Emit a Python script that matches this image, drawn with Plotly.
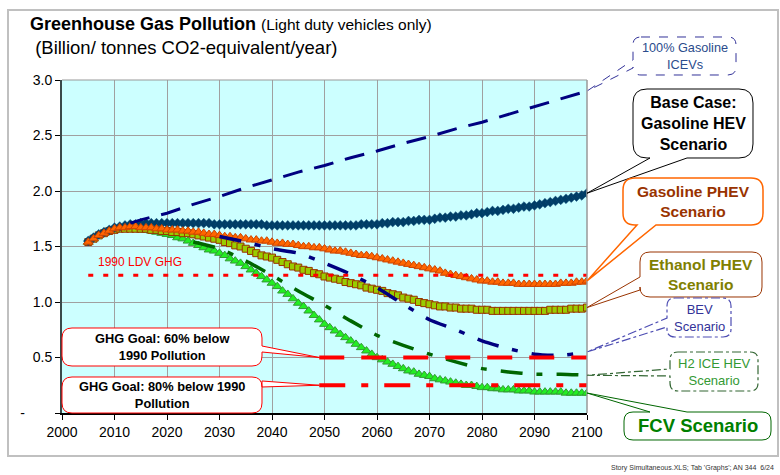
import plotly.graph_objects as go

# ---------------- data ----------------
YEARS = list(range(2005, 2101))

BASE_HEV = [1.55, 1.58, 1.61, 1.63, 1.65, 1.67, 1.68, 1.69, 1.70, 1.70,
            1.71, 1.71, 1.71, 1.71, 1.71, 1.71, 1.71, 1.71, 1.71, 1.71,
            1.71, 1.71, 1.71, 1.71, 1.70, 1.70, 1.70, 1.70, 1.70, 1.70,
            1.70, 1.70, 1.70, 1.70, 1.69, 1.69, 1.69, 1.69, 1.69, 1.69,
            1.69, 1.69, 1.69, 1.69, 1.69, 1.69, 1.69, 1.69, 1.69, 1.69,
            1.69, 1.69, 1.70, 1.70, 1.70, 1.70, 1.71, 1.71, 1.72, 1.72,
            1.72, 1.73, 1.73, 1.74, 1.74, 1.74, 1.75, 1.76, 1.76, 1.77,
            1.77, 1.78, 1.78, 1.79, 1.80, 1.80, 1.81, 1.82, 1.82, 1.83,
            1.84, 1.84, 1.85, 1.86, 1.86, 1.87, 1.88, 1.89, 1.90, 1.91,
            1.92, 1.93, 1.94, 1.95, 1.96, 1.98]

GAS_PHEV = [1.54, 1.57, 1.60, 1.62, 1.64, 1.66, 1.67, 1.67, 1.68, 1.68,
            1.67, 1.67, 1.67, 1.66, 1.66, 1.65, 1.65, 1.65, 1.64, 1.64,
            1.63, 1.63, 1.62, 1.61, 1.61, 1.60, 1.59, 1.59, 1.58, 1.58,
            1.57, 1.56, 1.56, 1.55, 1.55, 1.54, 1.53, 1.53, 1.52, 1.52,
            1.51, 1.50, 1.50, 1.49, 1.49, 1.48, 1.47, 1.46, 1.46, 1.45,
            1.44, 1.43, 1.42, 1.42, 1.41, 1.40, 1.39, 1.38, 1.37, 1.36,
            1.35, 1.34, 1.33, 1.32, 1.31, 1.30, 1.29, 1.28, 1.26, 1.25,
            1.24, 1.23, 1.22, 1.21, 1.20, 1.19, 1.19, 1.18, 1.18, 1.17,
            1.17, 1.17, 1.16, 1.16, 1.16, 1.16, 1.16, 1.16, 1.16, 1.16,
            1.17, 1.17, 1.17, 1.18, 1.18, 1.19]

ETHANOL_PHEV = [1.54, 1.57, 1.60, 1.62, 1.64, 1.65, 1.66, 1.66, 1.66, 1.66,
                1.66, 1.66, 1.65, 1.65, 1.64, 1.64, 1.63, 1.63, 1.62, 1.62,
                1.61, 1.60, 1.59, 1.58, 1.57, 1.56, 1.54, 1.53, 1.51, 1.50,
                1.48, 1.46, 1.44, 1.42, 1.41, 1.40, 1.38, 1.36, 1.34, 1.32,
                1.31, 1.29, 1.28, 1.26, 1.25, 1.23, 1.22, 1.21, 1.20, 1.18,
                1.17, 1.16, 1.15, 1.13, 1.12, 1.11, 1.10, 1.08, 1.07, 1.06,
                1.04, 1.03, 1.02, 1.00, 0.99, 0.98, 0.97, 0.96, 0.96, 0.95,
                0.95, 0.94, 0.94, 0.94, 0.93, 0.93, 0.93, 0.92, 0.92, 0.92,
                0.92, 0.92, 0.92, 0.92, 0.92, 0.92, 0.92, 0.92, 0.93, 0.93,
                0.93, 0.93, 0.94, 0.94, 0.94, 0.95]

FCV = [1.54, 1.57, 1.60, 1.62, 1.64, 1.65, 1.66, 1.66, 1.66, 1.66,
       1.65, 1.65, 1.64, 1.63, 1.62, 1.61, 1.60, 1.58, 1.57, 1.55,
       1.53, 1.51, 1.49, 1.47, 1.46, 1.44, 1.42, 1.39, 1.37, 1.35,
       1.32, 1.29, 1.26, 1.23, 1.20, 1.17, 1.14, 1.10, 1.07, 1.03,
       0.99, 0.96, 0.92, 0.88, 0.84, 0.80, 0.77, 0.74, 0.71, 0.68,
       0.65, 0.62, 0.59, 0.56, 0.53, 0.50, 0.48, 0.46, 0.44, 0.42,
       0.40, 0.38, 0.37, 0.35, 0.34, 0.33, 0.31, 0.30, 0.29, 0.28,
       0.27, 0.26, 0.25, 0.25, 0.24, 0.23, 0.23, 0.22, 0.22, 0.21,
       0.21, 0.21, 0.20, 0.20, 0.20, 0.19, 0.19, 0.19, 0.19, 0.19,
       0.19, 0.18, 0.18, 0.18, 0.18, 0.18]

ICEV_YEARS = [2013, 2015, 2020, 2025, 2030, 2035, 2040, 2045, 2050, 2055,
              2060, 2065, 2070, 2075, 2080, 2085, 2090, 2095, 2100]
ICEV = [1.71, 1.74, 1.80, 1.88, 1.95, 2.03, 2.10, 2.17, 2.23, 2.30,
        2.36, 2.43, 2.49, 2.56, 2.62, 2.69, 2.76, 2.83, 2.90]

BEV_YEARS = [2030, 2035, 2040, 2045, 2050, 2055, 2060, 2065, 2070, 2075,
             2080, 2085, 2090, 2095, 2100]
BEV = [1.59, 1.54, 1.48, 1.44, 1.35, 1.25, 1.13, 0.98, 0.84, 0.75,
       0.65, 0.58, 0.53, 0.52, 0.55]

H2_YEARS = [2025, 2030, 2035, 2040, 2045, 2050, 2055, 2060, 2065, 2070,
            2075, 2080, 2085, 2090, 2095, 2100]
H2_ICE_HEV = [1.54, 1.48, 1.37, 1.24, 1.10, 0.97, 0.83, 0.70, 0.61, 0.53,
              0.46, 0.40, 0.37, 0.35, 0.35, 0.34]

LDV_1990_YEARS = [2005, 2100]
LDV_1990 = 1.24
GOAL_YEARS = [2049, 2100]
GOAL_60 = 0.50
GOAL_80 = 0.25

X_TICKS = list(range(2000, 2101, 10))
Y_TICKS = [0, 0.5, 1.0, 1.5, 2.0, 2.5, 3.0]
Y_TICK_TEXT = ["-" + "\u00a0" * 7, "0.5", "1.0", "1.5", "2.0", "2.5", "3.0"]

# ---------------- geometry helpers (pixel -> paper) ----------------
W, H = 780, 475
L, R, T, B = 62, 587, 80, 413
XR = (2000, 2100)
YR = (0, 3)


def px(x):
    return (x - L) / (R - L)


def py(y):
    return (B - y) / (B - T)


def xpix(v):
    return L + (v - XR[0]) / (XR[1] - XR[0]) * (R - L)


def ypix(v):
    return B - (v - YR[0]) / (YR[1] - YR[0]) * (B - T)


def P(x, y):
    return f"{px(x):.5f},{py(y):.5f}"


def callout_path(x0, y0, x1, y1, r, side, b1, b2, tip):
    d = f"M {P(x0 + r, y0)} "
    if side == "top":
        d += f"L {P(b1, y0)} L {P(*tip)} L {P(b2, y0)} "
    d += f"L {P(x1 - r, y0)} Q {P(x1, y0)} {P(x1, y0 + r)} "
    if side == "right":
        d += f"L {P(x1, b1)} L {P(*tip)} L {P(x1, b2)} "
    d += f"L {P(x1, y1 - r)} Q {P(x1, y1)} {P(x1 - r, y1)} "
    if side == "bottom":
        d += f"L {P(b2, y1)} L {P(*tip)} L {P(b1, y1)} "
    d += f"L {P(x0 + r, y1)} Q {P(x0, y1)} {P(x0, y1 - r)} "
    if side == "left":
        d += f"L {P(x0, b2)} L {P(*tip)} L {P(x0, b1)} "
    d += f"L {P(x0, y0 + r)} Q {P(x0, y0)} {P(x0 + r, y0)} Z"
    return d


FONT = "Arial, Liberation Sans, sans-serif"

fig = go.Figure()

# ---------------- marker series ----------------
fig.add_trace(go.Scatter(x=YEARS, y=FCV, mode="markers", name="FCV Scenario",
                         marker=dict(symbol="triangle-up", size=8.5, color="#22EE22",
                                     line=dict(color="#339933", width=1))))
fig.add_trace(go.Scatter(x=YEARS, y=ETHANOL_PHEV, mode="markers", name="Ethanol PHEV",
                         marker=dict(symbol="square", size=7, color="#99CC00",
                                     line=dict(color="#993300", width=1))))
fig.add_trace(go.Scatter(x=YEARS, y=BASE_HEV, mode="markers", name="Base Case",
                         marker=dict(symbol="diamond", size=7.5, color="#003D66",
                                     line=dict(color="#0B4F7A", width=0.5))))
fig.add_trace(go.Scatter(x=YEARS, y=GAS_PHEV, mode="markers", name="Gasoline PHEV",
                         marker=dict(symbol="triangle-up", size=8.5, color="#FF6600",
                                     line=dict(color="#CC4400", width=1))))

# ---------------- dashed lines ----------------
fig.add_trace(go.Scatter(x=ICEV_YEARS, y=ICEV, mode="lines", name="100% Gasoline ICEVs",
                         line=dict(color="#000080", width=3, dash="20px,12px")))
fig.add_trace(go.Scatter(x=BEV_YEARS, y=BEV, mode="lines", name="BEV",
                         line=dict(color="#000080", width=3.5, dash="22px,14px,6px,14px",
                                   shape="spline", smoothing=0.6)))
fig.add_trace(go.Scatter(x=H2_YEARS, y=H2_ICE_HEV, mode="lines", name="H2 ICE HEV",
                         line=dict(color="#006600", width=3.5, dash="22px,14px,6px,14px",
                                   shape="spline", smoothing=0.6)))

# ---------------- red reference lines ----------------
fig.add_trace(go.Scatter(x=LDV_1990_YEARS, y=[LDV_1990] * 2, mode="lines", name="1990 LDV GHG",
                         line=dict(color="#FF0000", width=3, dash="5px,10px")))
fig.add_trace(go.Scatter(x=GOAL_YEARS, y=[GOAL_60] * 2, mode="lines", name="60% goal",
                         line=dict(color="#FF0000", width=4, dash="25px,17px")))
fig.add_trace(go.Scatter(x=GOAL_YEARS, y=[GOAL_80] * 2, mode="lines", name="80% goal",
                         line=dict(color="#FF0000", width=4, dash="26px,16px,7px,16px")))

shapes = []
annotations = []

# outer frame
shapes.append(dict(type="rect", xref="paper", yref="paper",
                   x0=px(8), x1=px(778), y0=py(456), y1=py(10),
                   line=dict(color="#C0C0C0", width=2), fillcolor="rgba(0,0,0,0)", layer="below"))
# right and top plot edges
shapes.append(dict(type="line", xref="paper", yref="paper", x0=1, x1=1, y0=0, y1=1,
                   line=dict(color="#999999", width=1.5)))
shapes.append(dict(type="line", xref="paper", yref="paper", x0=0, x1=1, y0=1, y1=1,
                   line=dict(color="#999999", width=1)))

# callouts: (box, radius, side, b1, b2, tip, border, width, dash, text, size, color, bold)
callouts = [
    ((633, 37, 736, 75), 8, "left", 60, 68, (xpix(ICEV_YEARS[-1]), ypix(ICEV[-1])),
     "#333399", 1, "dash", "100% Gasoline<br>ICEVs", 12.7, "#2B4C8C", False),
    ((633, 89, 753, 158), 14, "bottom", 650, 687, (xpix(YEARS[-1]), ypix(BASE_HEV[-1])),
     "#000000", 1, "solid", "Base Case:<br>Gasoline HEV<br>Scenario", 16, "#000000", True),
    ((623, 178, 763, 225), 12, "bottom", 637, 656, (xpix(YEARS[-1]), ypix(GAS_PHEV[-1])),
     "#FF6600", 1.5, "solid", "Gasoline PHEV<br>Scenario", 15.5, "#993300", True),
    ((640, 252, 762, 297), 10, "left", 277, 290, (xpix(YEARS[-1]), ypix(ETHANOL_PHEV[-1])),
     "#993300", 1, "solid", "Ethanol PHEV<br>Scenario", 15.5, "#808000", True),
    ((667, 298, 731, 337), 8, "left", 318, 327, (xpix(BEV_YEARS[-1]), ypix(BEV[-1])),
     "#4D4DB3", 1.2, "dashdot", "BEV<br>Scenario", 13, "#333399", False),
    ((670, 352, 758, 391), 8, "left", 369, 376, (xpix(H2_YEARS[-1]), ypix(H2_ICE_HEV[-1])),
     "#336633", 1.2, "dashdot", "H2 ICE HEV<br>Scenario", 13, "#339933", False),
    ((624, 412, 771, 440), 9, "top", 650, 687, (xpix(YEARS[-1]), ypix(FCV[-1])),
     "#006600", 1, "solid", "FCV Scenario", 18.5, "#008000", True),
    ((62, 328, 262, 366), 10, "right", 346, 352, (xpix(GOAL_YEARS[0]), ypix(GOAL_60)),
     "#FF0000", 1, "solid", "GHG Goal: 60% below<br>1990 Pollution", 12.8, "#000000", True),
    ((62, 377, 262, 413), 10, "right", 381, 387, (xpix(GOAL_YEARS[0]), ypix(GOAL_80)),
     "#FF0000", 1, "solid", "GHG Goal: 80% below 1990<br>Pollution", 12.8, "#000000", True),
]

for (box, r, side, b1, b2, tip, bc, bw, bd, text, fs, fc, bold) in callouts:
    x0, y0, x1, y1 = box
    shapes.append(dict(type="path", xref="paper", yref="paper",
                       path=callout_path(x0, y0, x1, y1, r, side, b1, b2, tip),
                       fillcolor="white", line=dict(color=bc, width=bw, dash=bd),
                       layer="above"))
    annotations.append(dict(xref="paper", yref="paper",
                            x=px((x0 + x1) / 2), y=py((y0 + y1) / 2),
                            xanchor="center", yanchor="middle", showarrow=False,
                            text=f"<b>{text}</b>" if bold else text,
                            font=dict(family=FONT, size=fs, color=fc)))

# 1990 label
annotations.append(dict(xref="paper", yref="paper", x=px(96), y=py(262),
                        xanchor="left", yanchor="middle", showarrow=False,
                        text="1990 LDV GHG", font=dict(family=FONT, size=12, color="#FF0000")))

# titles
annotations.append(dict(xref="paper", yref="paper", x=px(28), y=py(24),
                        xanchor="left", yanchor="middle", showarrow=False,
                        text="<b>Greenhouse Gas Pollution</b> <span style='font-size:15.5px'>(Light duty vehicles only)</span>",
                        font=dict(family=FONT, size=18, color="#000000")))
annotations.append(dict(xref="paper", yref="paper", x=px(28), y=py(48),
                        xanchor="left", yanchor="middle", showarrow=False,
                        text="\u00a0(Billion/ tonnes CO2-equivalent/year)",
                        font=dict(family=FONT, size=18.5, color="#000000")))
# footer
annotations.append(dict(xref="paper", yref="paper", x=px(776), y=py(468),
                        xanchor="right", yanchor="middle", showarrow=False,
                        text="Story Simultaneous.XLS; Tab 'Graphs'; AN 344  6/24",
                        font=dict(family=FONT, size=7, color="#333333")))

fig.update_layout(
    width=W, height=H,
    margin=dict(l=L, r=W - R, t=T, b=H - B, pad=0),
    paper_bgcolor="white", plot_bgcolor="#CCFFFF",
    showlegend=False,
    font=dict(family=FONT, size=14, color="#000000"),
    shapes=shapes, annotations=annotations,
    xaxis=dict(range=list(XR), tickvals=X_TICKS, showgrid=True, gridcolor="#A0A0A0", gridwidth=1,
               ticks="outside", ticklen=5, tickcolor="#000000", showline=True,
               linecolor="#000000", linewidth=1.5, zeroline=False,
               tickfont=dict(family=FONT, size=14)),
    yaxis=dict(range=list(YR), tickvals=Y_TICKS, ticktext=Y_TICK_TEXT, showgrid=True,
               gridcolor="#A0A0A0", gridwidth=1, ticks="outside", ticklen=5,
               tickcolor="#000000", showline=True, linecolor="#3A4A4A", linewidth=2,
               zeroline=False, tickfont=dict(family=FONT, size=14)),
)

fig.write_html("out.html",
               config={"displayModeBar": False},
               post_script="document.body.style.margin='0';document.body.style.overflow='hidden';")
